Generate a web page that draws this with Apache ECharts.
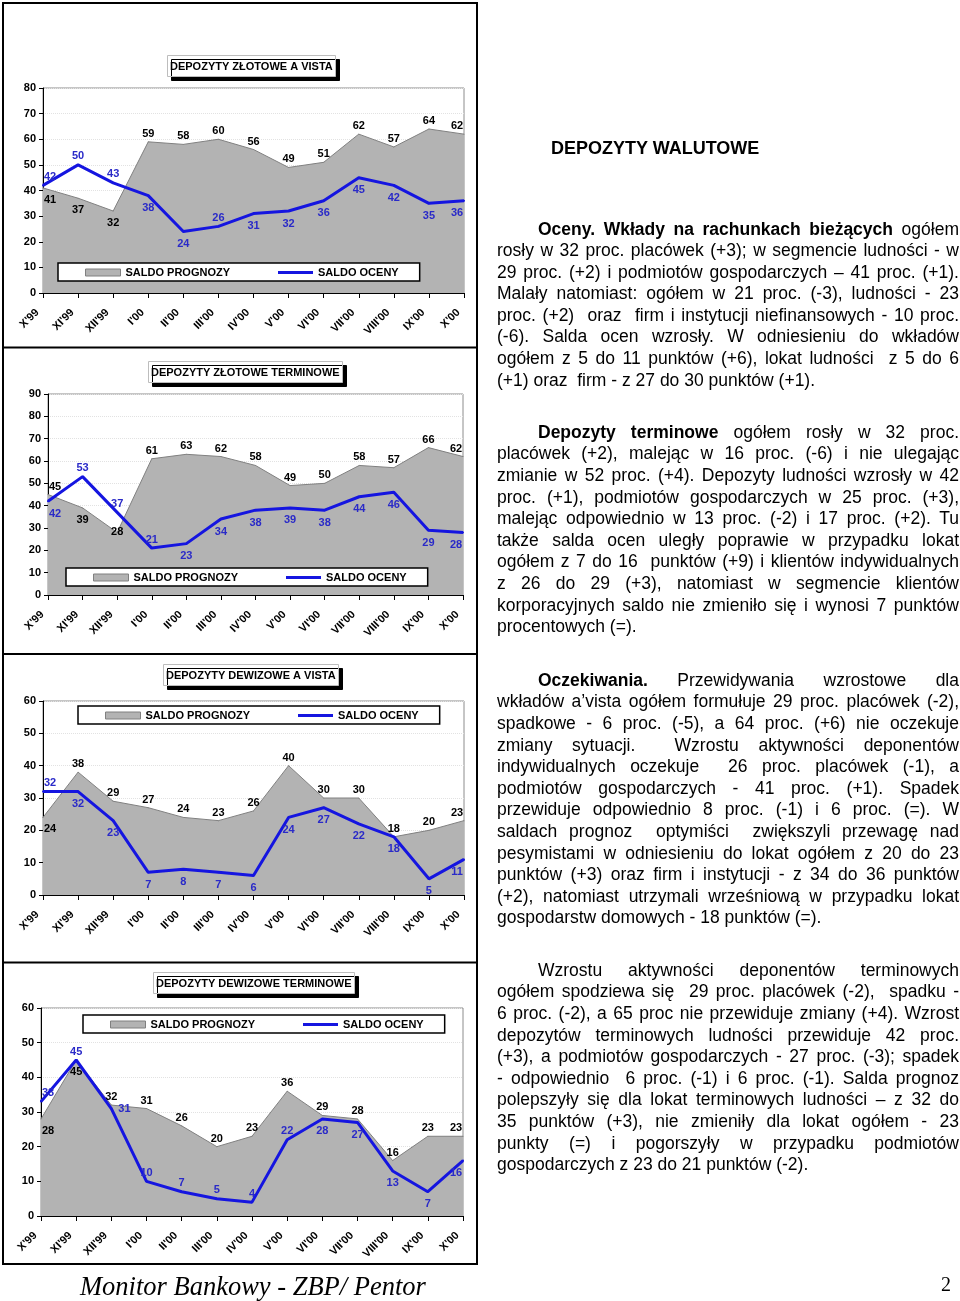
<!DOCTYPE html>
<html><head><meta charset="utf-8">
<script src="https://cdn.jsdelivr.net/npm/echarts@6/dist/echarts.min.js"></script>
<style>
html,body{margin:0;padding:0;background:#fff;}
#chart{position:absolute;left:0;top:0;width:960px;height:1301px;}
.txt{position:absolute;left:497px;width:462px;font-family:'Liberation Sans',Arial,sans-serif;font-size:17.5px;color:#000;}
.txt div{height:21.6px;line-height:21.6px;text-align:justify;text-align-last:justify;white-space:nowrap;}
.txt div.last{text-align-last:left;}
.txt div.first{text-indent:41px;}
.head{position:absolute;left:551px;top:137px;font-family:'Liberation Sans',Arial,sans-serif;font-weight:bold;font-size:18px;line-height:22px;}
.foot{position:absolute;left:80px;top:1270px;font-family:'Liberation Serif','Times New Roman',serif;font-style:italic;font-size:26.5px;line-height:32px;}
.pnum{position:absolute;left:941px;top:1271px;font-family:'Liberation Serif',serif;font-size:20px;line-height:26px;}
</style></head>
<body>
<div id="chart"></div>
<div class="head">DEPOZYTY WALUTOWE</div>
<div class="txt" style="top:218.5px">
<div class="first"><b>Oceny. Wkłady na rachunkach bieżących</b> ogółem</div>
<div>rosły w 32 proc. placówek (+3); w segmencie ludności - w</div>
<div>29 proc. (+2) i podmiotów gospodarczych – 41 proc. (+1).</div>
<div>Malały natomiast: ogółem w 21 proc. (-3), ludności - 23</div>
<div>proc. (+2)&nbsp; oraz&nbsp; firm i instytucji niefinansowych - 10 proc.</div>
<div>(-6). Salda ocen wzrosły. W odniesieniu do wkładów</div>
<div>ogółem z 5 do 11 punktów (+6), lokat ludności&nbsp; z 5 do 6</div>
<div class="last">(+1) oraz&nbsp; firm - z 27 do 30 punktów (+1).</div>
</div>
<div class="txt" style="top:421.9px">
<div class="first"><b>Depozyty terminowe</b> ogółem rosły w 32 proc.</div>
<div>placówek (+2), malejąc w 16 proc. (-6) i nie ulegając</div>
<div>zmianie w 52 proc. (+4). Depozyty ludności wzrosły w 42</div>
<div>proc. (+1), podmiotów gospodarczych w 25 proc. (+3),</div>
<div>malejąc odpowiednio w 13 proc. (-2) i 17 proc. (+2). Tu</div>
<div>także salda ocen uległy poprawie w przypadku lokat</div>
<div>ogółem z 7 do 16&nbsp; punktów (+9) i klientów indywidualnych</div>
<div>z 26 do 29 (+3), natomiast w segmencie klientów</div>
<div>korporacyjnych saldo nie zmieniło się i wynosi 7 punktów</div>
<div class="last">procentowych (=).</div>
</div>
<div class="txt" style="top:669.9px">
<div class="first"><b>Oczekiwania.</b> Przewidywania wzrostowe dla</div>
<div>wkładów a’vista ogółem formułuje 29 proc. placówek (-2),</div>
<div>spadkowe - 6 proc. (-5), a 64 proc. (+6) nie oczekuje</div>
<div>zmiany sytuacji.&nbsp; Wzrostu aktywności deponentów</div>
<div>indywidualnych oczekuje&nbsp; 26 proc. placówek (-1), a</div>
<div>podmiotów gospodarczych - 41 proc. (+1). Spadek</div>
<div>przewiduje odpowiednio 8 proc. (-1) i 6 proc. (=). W</div>
<div>saldach prognoz&nbsp; optymiści&nbsp; zwiększyli przewagę nad</div>
<div>pesymistami w odniesieniu do lokat ogółem z 20 do 23</div>
<div>punktów (+3) oraz firm i instytucji - z 34 do 36 punktów</div>
<div>(+2), natomiast utrzymali wrześniową w przypadku lokat</div>
<div class="last">gospodarstw domowych - 18 punktów (=).</div>
</div>
<div class="txt" style="top:959.9px">
<div class="first">Wzrostu aktywności deponentów terminowych</div>
<div>ogółem spodziewa się&nbsp; 29 proc. placówek (-2),&nbsp; spadku -</div>
<div>6 proc. (-2), a 65 proc nie przewiduje zmiany (+4). Wzrost</div>
<div>depozytów terminowych ludności przewiduje 42 proc.</div>
<div>(+3), a podmiotów gospodarczych - 27 proc. (-3); spadek</div>
<div>- odpowiednio&nbsp; 6 proc. (-1) i 6 proc. (-1). Salda prognoz</div>
<div>polepszyły się dla lokat terminowych ludności – z 32 do</div>
<div>35 punktów (+3), nie zmieniły dla lokat ogółem - 23</div>
<div>punkty (=) i pogorszyły w przypadku podmiotów</div>
<div class="last">gospodarczych z 23 do 21 punktów (-2).</div>
</div>
<div class="foot">Monitor Bankowy - ZBP/ Pentor</div>
<div class="pnum">2</div>
<script>
// ---------------- DATA ----------------
const categories = ["X'99","XI'99","XII'99","I'00","II'00","III'00","IV'00","V'00","VI'00","VII'00","VIII'00","IX'00","X'00"];
const seriesNames = ['SALDO PROGNOZY', 'SALDO OCENY'];
const chartTitles = ['DEPOZYTY ZŁOTOWE A VISTA', 'DEPOZYTY ZŁOTOWE TERMINOWE', 'DEPOZYTY DEWIZOWE A VISTA', 'DEPOZYTY DEWIZOWE TERMINOWE'];
const zlAvistaPrognozy = [41, 37, 32, 59, 58, 60, 56, 49, 51, 62, 57, 64, 62];
const zlAvistaOceny    = [42, 50, 43, 38, 24, 26, 31, 32, 36, 45, 42, 35, 36];
const zlTermPrognozy   = [45, 39, 28, 61, 63, 62, 58, 49, 50, 58, 57, 66, 62];
const zlTermOceny      = [42, 53, 37, 21, 23, 34, 38, 39, 38, 44, 46, 29, 28];
const dewAvistaPrognozy = [24, 38, 29, 27, 24, 23, 26, 40, 30, 30, 18, 20, 23];
const dewAvistaOceny    = [32, 32, 23, 7, 8, 7, 6, 24, 27, 22, 18, 5, 11];
const dewTermPrognozy   = [28, 45, 32, 31, 26, 20, 23, 36, 29, 28, 16, 23, 23];
const dewTermOceny      = [33, 45, 31, 10, 7, 5, 4, 22, 28, 27, 13, 7, 16];
const yAxisMax = [80, 90, 60, 60];
const yAxisInterval = 10;

// ---------------- LAYOUT / STYLE ----------------
const FONT = "'Liberation Sans', Arial, sans-serif";
const GRAY = '#b3b3b3', BLUE = '#1515e0', BLUE_TXT = '#2a2ac8';
const panels = [
  { prog: zlAvistaPrognozy, ocen: zlAvistaOceny,
    grid: {left: 43, top: 88, width: 421, height: 205},
    title: {left: 167, top: 55}, legend: {left: 58, top: 263},
    progPos: 'bbbtttttttttt', ocenPos: 'tttbbtbbbbbbb' },
  { prog: zlTermPrognozy, ocen: zlTermOceny,
    grid: {left: 48, top: 394, width: 415, height: 201},
    title: {left: 148, top: 361}, legend: {left: 66, top: 568},
    progPos: 'tbitttttttttt', ocenPos: 'btttbbbbbbbbb' },
  { prog: dewAvistaPrognozy, ocen: dewAvistaOceny,
    grid: {left: 43, top: 701, width: 421, height: 194},
    title: {left: 163, top: 664}, legend: {left: 78, top: 706},
    progPos: 'btttttttttttt', ocenPos: 'tbbbbbbbbbbbb' },
  { prog: dewTermPrognozy, ocen: dewTermOceny,
    grid: {left: 41, top: 1008, width: 422, height: 208},
    title: {left: 153, top: 972}, legend: {left: 83, top: 1015},
    progPos: 'bbttttttttttt', ocenPos: 'ttrtttttbbbbb' }
];
const posMap = {t: 'top', b: 'bottom', i: 'inside', r: 'right'};

function points(values, posStr) {
  return values.map((v, i) => {
    const p = posMap[posStr[i]];
    const lab = {position: p, distance: p === 'top' ? 2 : (p === 'right' ? 6 : 6)};
    if (i === 0) lab.offset = [7, 0];
    if (i === values.length - 1) lab.offset = [-7, 0];
    return {value: v, label: lab};
  });
}

const option = {
  animation: false,
  textStyle: {fontFamily: FONT},
  title: [], grid: [], xAxis: [], yAxis: [], legend: [], series: [],
  graphic: [
    {type: 'rect', shape: {x: 3, y: 3, width: 474, height: 1261}, style: {fill: 'none', stroke: '#000', lineWidth: 2}, z: 100, silent: true},
    {type: 'line', shape: {x1: 3, y1: 347.5, x2: 477, y2: 347.5}, style: {stroke: '#000', lineWidth: 2}, z: 100, silent: true},
    {type: 'line', shape: {x1: 3, y1: 654, x2: 477, y2: 654}, style: {stroke: '#000', lineWidth: 2}, z: 100, silent: true},
    {type: 'line', shape: {x1: 3, y1: 962.5, x2: 477, y2: 962.5}, style: {stroke: '#000', lineWidth: 2}, z: 100, silent: true}
  ]
};

panels.forEach((p, k) => {
  option.title.push({
    text: chartTitles[k], left: p.title.left, top: p.title.top,
    padding: [6, 3, 5, 3], backgroundColor: '#fff', borderColor: '#bdbdbd', borderWidth: 1,
    shadowColor: '#000', shadowOffsetX: 4, shadowOffsetY: 4, shadowBlur: 0,
    textStyle: {fontSize: 11, fontWeight: 'bold', color: '#000', fontFamily: FONT}
  });
  option.grid.push(Object.assign({show: true, borderColor: '#8c8c8c', borderWidth: 1, backgroundColor: 'transparent'}, p.grid));
  option.xAxis.push({
    type: 'category', gridIndex: k, data: categories, boundaryGap: false,
    axisLine: {lineStyle: {color: '#000', width: 1}},
    axisTick: {show: true, length: 5, interval: 0, lineStyle: {color: '#000'}},
    axisLabel: {interval: 0, rotate: 45, margin: 12, padding: [0, 8, 0, 0], fontSize: 11, fontWeight: 'bold', color: '#000', fontFamily: FONT},
    splitLine: {show: false}
  });
  option.yAxis.push({
    type: 'value', gridIndex: k, min: 0, max: yAxisMax[k], interval: yAxisInterval,
    axisLine: {show: true, lineStyle: {color: '#000', width: 1}},
    axisTick: {show: true, length: 4, lineStyle: {color: '#000'}},
    axisLabel: {margin: 7, fontSize: 11, fontWeight: 'bold', color: '#000', fontFamily: FONT},
    splitLine: {show: true, lineStyle: {color: '#e2e2e2', type: 'dotted', width: 1}}
  });
  option.legend.push({
    left: p.legend.left, top: p.legend.top, orient: 'horizontal', selectedMode: false,
    data: [
      {name: seriesNames[0], icon: 'rect', itemStyle: {color: GRAY, borderColor: '#808080', borderWidth: 1}},
      {name: seriesNames[1], icon: 'path://M0,0H35V3H0Z', itemStyle: {color: BLUE, borderWidth: 0}}
    ],
    itemWidth: 35, itemHeight: 7, itemGap: 48, padding: [4, 21, 3, 27],
    borderColor: '#000', borderWidth: 1.5, backgroundColor: '#fff',
    textStyle: {fontSize: 11, fontWeight: 'bold', color: '#000', fontFamily: FONT}
  });
  option.series.push({
    type: 'line', name: seriesNames[0], xAxisIndex: k, yAxisIndex: k,
    data: points(p.prog, p.progPos), symbol: 'circle', symbolSize: 1, showAllSymbol: true,
    itemStyle: {color: '#808080'}, lineStyle: {color: '#808080', width: 1},
    areaStyle: {color: GRAY, opacity: 1}, z: 2, silent: true,
    label: {show: true, color: '#000', fontSize: 11, fontWeight: 'bold', fontFamily: FONT},
    emphasis: {disabled: true}
  });
  option.series.push({
    type: 'line', name: seriesNames[1], xAxisIndex: k, yAxisIndex: k,
    data: points(p.ocen, p.ocenPos), symbol: 'circle', symbolSize: 2, showAllSymbol: true,
    itemStyle: {color: BLUE}, lineStyle: {color: BLUE, width: 3},
    z: 3, silent: true,
    label: {show: true, color: BLUE_TXT, fontSize: 11, fontWeight: 'bold', fontFamily: FONT},
    emphasis: {disabled: true}
  });
});

const chart = echarts.init(document.getElementById('chart'), null, {renderer: 'canvas'});
chart.setOption(option);
</script>
</body></html>
